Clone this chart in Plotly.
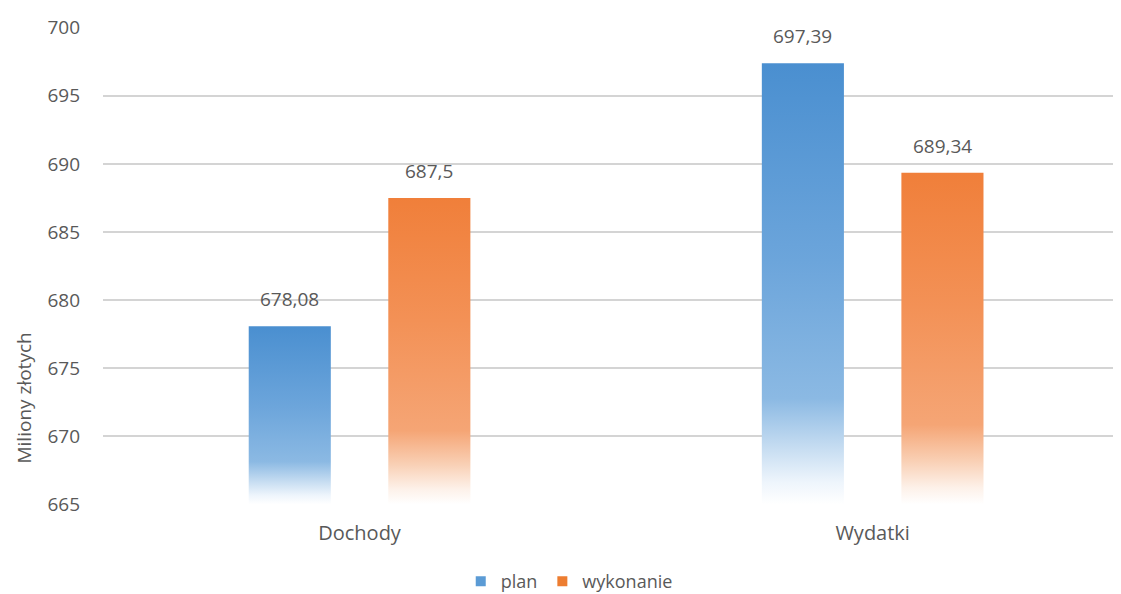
import plotly.graph_objects as go

categories = ["Dochody", "Wydatki"]
plan = [678.08, 697.39]
wykonanie = [687.5, 689.34]
series_names = ["plan", "wykonanie"]
y_ticks = [665, 670, 675, 680, 685, 690, 695, 700]

Y_MIN, Y_MAX = 665, 700
HALF_W = 0.08
OFFSETS = [-0.136, 0.136]
TOP_COLORS = ["#5b9bd5", "#ed7d31"]
GRADIENTS = [
    [[0.0, "#ffffff"], [0.05, "#eef5fc"], [0.13, "#c5dcf1"], [0.24, "#8bb9e3"],
     [0.55, "#6ca5db"], [1.0, "#4a8fd0"]],
    [[0.0, "#ffffff"], [0.05, "#fdf1e9"], [0.13, "#f9d0b5"], [0.24, "#f5a575"],
     [0.6, "#f39156"], [1.0, "#f07f3a"]],
]

def fmt(v):
    s = f"{v:.2f}".rstrip("0").rstrip(".")
    return s.replace(".", ",")

FONT = "Open Sans"
GRAY = "#595959"

fig = go.Figure()
annotations = []
for si, vals in enumerate([plan, wykonanie]):
    for ci, v in enumerate(vals):
        xc = ci + OFFSETS[si]
        fig.add_trace(go.Scatter(
            x=[xc - HALF_W, xc + HALF_W, xc + HALF_W, xc - HALF_W, xc - HALF_W],
            y=[Y_MIN, Y_MIN, v, v, Y_MIN],
            mode="lines", line=dict(width=0), fill="toself",
            fillgradient=dict(type="vertical", colorscale=GRADIENTS[si]),
            showlegend=False, hoverinfo="skip",
        ))
        annotations.append(dict(
            x=xc, y=v, xref="x", yref="y", text=fmt(v), showarrow=False,
            yanchor="bottom", yshift=12, font=dict(family=FONT, size=19, color=GRAY),
        ))
    fig.add_trace(go.Scatter(
        x=[None], y=[None], mode="markers", name=series_names[si],
        marker=dict(symbol="square", size=10, color=TOP_COLORS[si]),
    ))

annotations.append(dict(
    text="Miliony złotych", textangle=-90, xref="paper", yref="paper",
    x=-0.078, y=0.224, xanchor="center", yanchor="middle", showarrow=False,
    font=dict(family=FONT, size=19, color=GRAY),
))

fig.update_layout(
    width=1113, height=586,
    margin=dict(l=95, r=0, t=19, b=89, autoexpand=False),
    paper_bgcolor="white", plot_bgcolor="white",
    font=dict(family=FONT, color=GRAY, size=18),
    showlegend=True,
    legend=dict(orientation="h", x=0.458, xanchor="center", y=-0.16, yanchor="middle",
                font=dict(family=FONT, size=18, color=GRAY), itemwidth=30,
                tracegroupgap=0, bgcolor="rgba(0,0,0,0)"),
    xaxis=dict(range=[-0.5, 1.484], tickvals=[0, 1], ticktext=categories,
               showgrid=False, zeroline=False, showline=False, ticks="",
               ticklabelstandoff=14,
               tickfont=dict(family=FONT, size=20, color=GRAY)),
    yaxis=dict(range=[Y_MIN - 0.05, Y_MAX + 0.05], tickvals=y_ticks, showgrid=True,
               gridcolor="#d4d4d4", gridwidth=1.5, zeroline=False, showline=False,
               ticks="", ticklabelstandoff=22,
               tickfont=dict(family=FONT, size=19, color=GRAY)),
    annotations=annotations,
)

fig.write_html("out.html")
